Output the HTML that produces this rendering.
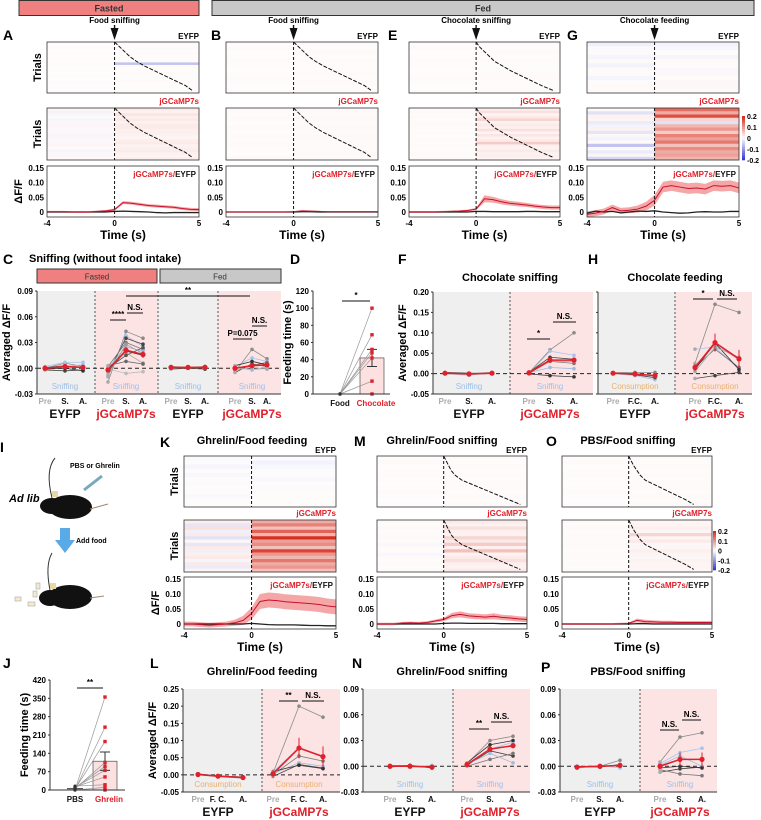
<!DOCTYPE html>
<html><head><meta charset="utf-8"><style>
body{margin:0;background:#fff;width:761px;height:820px;overflow:hidden}
svg{display:block;font-family:"Liberation Sans",sans-serif;font-weight:bold}
</style></head><body>
<svg id="fig" width="761" height="820" viewBox="0 0 761 820">
<g>
<rect x="19" y="0.5" width="180" height="15" fill="#f08080" stroke="#333"/>
<text x="109" y="11.5" font-size="9" text-anchor="middle" fill="#333">Fasted</text>
<rect x="212" y="0.5" width="542" height="15" fill="#c8c8c8" stroke="#333"/>
<text x="483" y="11.5" font-size="9" text-anchor="middle" fill="#333">Fed</text>
</g>
<g font-weight="bold">
<text x="0" y="452" font-size="14">I</text>
<path d="M52 498 Q45 470 55 458" stroke="#333" fill="none"/>
<ellipse cx="70" cy="507" rx="22" ry="12" fill="#111"/>
<ellipse cx="52" cy="506" rx="12" ry="8" fill="#111"/>
<rect x="52" y="491" width="6" height="6" fill="#e8d8a8"/>
<line x1="90" y1="509" x2="108" y2="504" stroke="#a08870"/>
<line x1="84" y1="490" x2="102" y2="476" stroke="#7ab" stroke-width="3"/>
<text x="70" y="468" font-size="7">PBS or Ghrelin</text>
<text x="9" y="502" font-size="11" font-style="italic">Ad lib</text>
<path d="M60 528 h10 v12 h5 l-10 13 l-10 -13 h5z" fill="#5aaae8"/>
<text x="76" y="543" font-size="7">Add food</text>
<path d="M50 590 Q45 565 52 553" stroke="#333" fill="none"/>
<ellipse cx="70" cy="597" rx="22" ry="12" fill="#111"/>
<ellipse cx="50" cy="598" rx="11" ry="8" fill="#111"/>
<rect x="50" y="583" width="6" height="6" fill="#e8d8a8"/>
<line x1="90" y1="598" x2="104" y2="596" stroke="#a08870"/>
<g fill="#f3ead0" stroke="#999" stroke-width="0.5">
<rect x="15" y="597" width="6" height="4"/><rect x="28" y="602" width="7" height="4"/><rect x="33" y="591" width="4" height="6"/><rect x="36" y="583" width="4" height="6"/>
</g>
</g>
</svg>
<script>
const NS='http://www.w3.org/2000/svg';
const svg=document.getElementById('fig');
function mk(tag,attrs,parent){const e=document.createElementNS(NS,tag);for(const k in attrs)e.setAttribute(k,attrs[k]);(parent||svg).appendChild(e);return e;}
function txt(str,attrs,parent){const e=mk('text',attrs,parent);e.textContent=str;return e;}
const RED='#e0202a';

// ---------- DATA: time axis for traces ----------
const traceTimes=[-4,-3.5,-3,-2.5,-2,-1.5,-1,-0.5,0,0.5,1,1.5,2,2.5,3,3.5,4,4.5,5];
const traceTicks=[0,0.05,0.10,0.15];
const traceTickLabels=['0','0.05','0.10','0.15'];
const timeTicks=[-4,0,5];
// A
const A_eyPre=[0.003,0.002,0.004,0.002,0.003,0.002,0.003,0.002,0.003,0.002,0.002,0.003,0.002,0.003,0.002,0.003,0.002,0.003,0.002,0.003];
const A_eyPost=[0.004,0.003,0.004,0.003,0.004,0.003,0.003,0.003,-0.06,0.003,0.003,0.003,0.004,0.003,0.003,0.004,0.003,0.003,0.003,0.003];
const A_jgPre=[0.008,-0.012,0.01,0.004,-0.01,0.008,0.01,-0.008,0.006,0.008,-0.01,0.008,0.006,-0.008,0.008,0.004,-0.01,0.006,0.008,0.004];
const A_jgPost=[0.02,0.012,0.025,0.015,0.02,0.012,0.018,0.02,0.015,0.014,0.012,0.01,0.016,0.02,0.012,0.014,0.018,0.012,0.01,0.015];
const A_lat=[0,0.3,0.6,0.9,1.3,1.8,2.4,3.0,3.6,4.2,4.6];
const A_jg=[0.001,0.001,0.001,0,0,0,0.002,0.004,0.008,0.032,0.03,0.026,0.022,0.02,0.018,0.016,0.012,0.009,0.008];
const A_sem=[0.003,0.003,0.003,0.003,0.003,0.003,0.003,0.003,0.004,0.005,0.005,0.005,0.005,0.005,0.005,0.005,0.005,0.005,0.005];
const A_ey=[0,0,0,0,0,0,0,0,0.002,0.003,0.002,0.001,0,-0.002,-0.003,-0.002,-0.002,-0.002,-0.002];
// B
const B_eyPre=[0.003,0.004,0.002,0.003,0.004,0.003,0.002,0.003,0.004,0.003,0.002,0.003];
const B_eyPost=[0.004,0.003,0.004,0.003,0.004,0.003,0.003,0.004,0.003,0.004,0.003,0.004];
const B_jgPre=[0.004,0.003,0.004,0.002,0.004,0.003,0.004,0.003,0.004,0.003,0.002,0.004];
const B_jgPost=[0.005,0.004,0.005,0.004,0.005,0.004,0.005,0.004,0.004,0.004,0.005,0.004];
const B_lat=[0,0.3,0.6,0.9,1.3,1.8,2.4,3.0,3.6,4.2,4.6];
const B_jg=[0,0,0,0,0,0,0,0,0.001,0.004,0.003,0.002,0.001,0.001,0.001,0.001,0.001,0.001,0.001];
const B_sem=[0.002,0.002,0.002,0.002,0.002,0.002,0.002,0.002,0.002,0.002,0.002,0.002,0.002,0.002,0.002,0.002,0.002,0.002,0.002];
const B_ey=[0,0,0,0,0,0,0,0,0,0.001,0.001,0,0,0,0,0,0,0,0];
// E
const E_eyPre=[0.003,0.004,0.002,0.003,0.004,0.003,0.002,0.003,0.004,0.003,0.002,0.003];
const E_eyPost=[0.004,0.003,0.004,0.003,0.004,0.003,0.003,0.004,0.004,0.003,0.003,0.004];
const E_jgPre=[0.003,0.005,0.003,0.004,0.003,0.004,0.004,0.003,0.003,0.004,0.003,0.003,0.004,0.003,0.004,0.003,0.003,0.004,0.003,0.004];
const E_jgPost=[0.015,0.03,0.01,0.02,0.04,0.012,0.02,0.015,0.03,0.01,0.025,0.012,0.02,0.05,0.015,0.01,0.02,0.012,0.015,0.01];
const E_lat=[0,0.2,0.5,0.8,1.1,1.6,2.1,2.7,3.3,3.9,4.6];
const E_jg=[0,0,0,0,0.001,0.002,0.003,0.005,0.01,0.045,0.042,0.035,0.03,0.027,0.024,0.02,0.017,0.015,0.015];
const E_sem=[0.003,0.003,0.003,0.003,0.003,0.003,0.003,0.003,0.004,0.012,0.01,0.009,0.008,0.008,0.007,0.007,0.007,0.007,0.007];
const E_ey=[0,0,0,0,0,0,0,0,0.002,0.002,0.001,0.001,0.001,0.001,0.002,0.002,0.001,0.001,0.001];
// G
const G_eyPre=[-0.015,-0.005,0.004,-0.01,0.005,-0.012,0.004,0.004,-0.01,0.003,0.004,0.004];
const G_eyPost=[-0.012,-0.008,0.003,-0.01,0.004,0.004,-0.006,0.006,0.003,0.006,0.007,0.004];
const G_jgPre=[0.005,-0.03,0.012,0.01,-0.02,-0.012,0.012,-0.025,0.006,-0.012,0.004,-0.06,0.005,-0.02,0.008,-0.04];
const G_jgPost=[0.14,0.08,0.17,0.04,-0.03,0.07,0.1,0.05,0.12,0.09,0.13,0.06,0.11,0.08,0.09,0.07];
const G_lat=[];
const G_jg=[-0.008,-0.004,0.002,0.015,0.004,0.006,0.01,0.02,0.04,0.085,0.09,0.085,0.08,0.082,0.078,0.09,0.088,0.09,0.082];
const G_sem=[0.01,0.01,0.01,0.01,0.01,0.01,0.012,0.015,0.018,0.018,0.018,0.018,0.018,0.018,0.018,0.018,0.018,0.018,0.018];
const G_ey=[-0.004,0.003,0,0.002,-0.003,0,0.003,0.002,0.004,0,-0.002,-0.004,-0.003,0,0.001,0,0,0.002,0.002];
// K
const K_eyPre=[-0.006,0.003,-0.01,0.003,-0.008,0.003,-0.004,0.003,0.003,-0.006,0.003,0.003];
const K_eyPost=[-0.004,-0.012,-0.008,-0.004,0.003,-0.008,0.003,-0.004,0.003,0.003,0.003,0.003];
const K_jgPre=[0.015,-0.025,0.03,-0.015,0.02,-0.03,0.008,-0.025,0.02,-0.015,0.015,0.02,-0.01,0.02,-0.02,0.01];
const K_jgPost=[0.08,0.12,0.06,0.15,0.07,0.2,0.09,0.11,0.06,0.18,0.1,0.07,0.13,0.08,0.1,0.06];
const K_lat=[];
const K_jg=[0,0,-0.002,-0.004,-0.002,0,0.004,0.012,0.035,0.075,0.08,0.078,0.074,0.072,0.07,0.068,0.065,0.06,0.057];
const K_sem=[0.008,0.008,0.008,0.008,0.008,0.008,0.01,0.015,0.02,0.025,0.025,0.025,0.025,0.025,0.025,0.025,0.025,0.025,0.025];
const K_ey=[0,0,0,0,0,0,0,0,0.002,0,-0.002,-0.003,-0.003,-0.003,-0.004,-0.005,-0.005,-0.006,-0.006];
// M
const M_eyPre=[0.003,0.004,0.002,0.003,0.004,0.003,0.002,0.003,0.004,0.003,0.002,0.003];
const M_eyPost=[0.004,0.003,0.004,0.003,0.004,0.003,0.004,0.004,0.003,0.004,0.003,0.004];
const M_jgPre=[0.004,0.003,0.005,0.003,0.004,0.005,0.003,-0.008,0.004,0.003,-0.008,0.004,0.003,0.004,0.003,0.004];
const M_jgPost=[0.02,0.012,0.03,0.015,0.012,0.04,0.02,0.05,0.015,0.06,0.012,0.02,0.03,0.015,0.012,0.02];
const M_lat=[0,0.15,0.3,0.45,0.7,1.1,1.8,2.5,3.2,3.9,4.6];
const M_jg=[0,0,0,0.003,0.004,0.003,0.005,0.01,0.015,0.028,0.032,0.027,0.025,0.023,0.026,0.022,0.02,0.017,0.015];
const M_sem=[0.004,0.004,0.004,0.004,0.004,0.004,0.004,0.005,0.006,0.009,0.01,0.009,0.009,0.009,0.01,0.009,0.009,0.009,0.009];
const M_ey=[0,0,0,0,0,0,0,0,0.002,0.003,0.003,0.002,0.002,0.002,0.002,0.001,0.001,0.001,0.001];
// O
const O_eyPre=[0.003,0.004,0.002,0.003,0.004,0.003,0.002,0.003,0.004,0.003,0.002,0.003];
const O_eyPost=[0.004,0.003,0.004,0.003,0.004,0.003,0.004,0.004,0.003,0.004,0.003,0.004];
const O_jgPre=[0.004,0.003,0.004,0.003,0.004,0.004,0.003,0.004,0.004,0.003,0.004,0.004,0.003,0.004,0.003,0.004];
const O_jgPost=[0.008,0.01,0.015,0.008,0.04,0.01,0.02,0.008,0.008,0.015,0.01,0.008,0.012,0.008,0.01,0.008];
const O_lat=[0,0.15,0.3,0.5,0.7,1.0,1.6,2.2,2.8,3.4,3.9];
const O_jg=[0,0,0,0,0,0,0,0.001,0.002,0.012,0.008,0.007,0.006,0.006,0.005,0.005,0.005,0.005,0.005];
const O_sem=[0.003,0.003,0.003,0.003,0.003,0.003,0.003,0.003,0.003,0.006,0.006,0.005,0.005,0.005,0.005,0.005,0.005,0.005,0.005];
const O_ey=[0,0,0,0,0,0,0,0,0,0.001,0.001,0,0,0,0,0,0,0,0];

// ---------- DATA: scatter panels ----------
const C_eyFasted=[[0,0.006,0.002],[0.002,0.007,0.007],[-0.002,-0.003,-0.002],[0.001,0.003,0.001],[0,0.002,0.004],[-0.001,0,-0.003]];
const C_eyFastedMean=[0,0.002,0.001];
const C_jgFasted=[[-0.016,0.043,0.035],[-0.01,0.038,0.025],[-0.005,0.035,0.028],[0.002,0.03,0.022],[0,0.025,0.02],[-0.003,0.02,0.015],[0.001,0.018,0.006],[0.003,0.008,0.005],[-0.001,-0.006,-0.004],[0,0.015,0.024],[-0.008,0.028,0.017]];
const C_jgFastedMean=[-0.002,0.021,0.016];
const C_eyFed=[[0.001,0,0.002],[0,0.001,0.001],[-0.001,0,-0.001],[0.002,0.001,0.002]];
const C_eyFedMean=[0.001,0.001,0.001];
const C_jgFed=[[-0.004,0.022,0.011],[0.002,0.012,0.008],[-0.005,0.005,0.002],[0,0.003,0.007],[0.001,-0.002,0],[0.003,0.008,0.004],[-0.002,0.001,-0.001]];
const C_jgFedMean=[0,0.003,0.004];
const D_food=[0,0,0,0,0,0,0];
const D_choc=[100,69,52,48,42,15,0];
const D_mean=[0,42];const D_sem=[0,10];
const F_ey=[[0.002,0,0.003],[0,-0.004,0.002],[0.003,0.001,0]];
const F_eyMean=[0.001,-0.001,0.001];
const F_jg=[[0.002,0.058,0.1],[0,0.055,0.045],[0.003,0.04,0.035],[0.001,0.03,0.025],[0.002,0.015,0.012],[-0.001,-0.005,-0.008],[0.004,0.03,0.03]];
const F_jgMean=[0.002,0.033,0.033];
const H_ey=[[0.002,0.003,0.003],[0,-0.005,-0.015],[0.001,-0.003,-0.01],[0.002,0,-0.005]];
const H_eyMean=[0.001,-0.001,-0.005];
const H_jg=[[0.025,0.17,0.15],[0.06,0.065,0.01],[-0.012,-0.005,0.003],[0.015,0.06,0.015],[0.02,0.07,0.035],[0.01,0.075,0.01],[0.005,0.065,0.04]];
const H_jgMean=[0.015,0.076,0.036];
const J_pbs=[0,0,3,5,8,10,12,15,0,2];
const J_ghr=[355,240,185,105,90,75,50,20,10,0];
const J_mean=[5,110];const J_sem=[2,35];
const L_ey=[[0.002,-0.003,-0.008],[0,-0.005,-0.01],[0.003,-0.004,-0.006]];
const L_eyMean=[0.001,-0.004,-0.008];
const L_jg=[[0.005,0.2,0.168],[0.008,0.08,0.055],[-0.005,0.03,0.02],[0,0.055,0.04],[0.003,0.035,0.025],[0.01,0.028,0.018]];
const L_jgMean=[0.003,0.078,0.053];
const N_ey=[[0.001,0.001,-0.001],[0,0,0.001],[-0.001,0.001,-0.002]];
const N_eyMean=[0,0,-0.001];
const N_jg=[[0.003,0.03,0.035],[0.002,0.02,0.028],[0.001,0.018,0.012],[0,0.008,0.015],[0.002,0.015,0.004],[0.004,0.025,0.03]];
const N_jgMean=[0.002,0.02,0.024];
const P_ey=[[0,0,0.007],[-0.002,0.001,-0.002],[0,-0.001,0.002]];
const P_eyMean=[-0.001,0,0.001];
const P_jg=[[0.005,0.034,0.039],[0.003,0.016,0.021],[-0.007,-0.003,-0.001],[-0.004,-0.009,-0.011],[0.001,0.012,0],[-0.002,0,-0.002]];
const P_jgMean=[0,0.008,0.008];

// ---------- drawing helpers ----------
function heatColor(v){
  const t=Math.max(-1,Math.min(1,v/0.2));
  if(t>=0){const r=255-(255-215)*t,g=255-(255-48)*t,b=255-(255-31)*t;return `rgb(${r|0},${g|0},${b|0})`;}
  const a=-t;return `rgb(${(255-(255-60)*a)|0},${(255-(255-60)*a)|0},${(255-(255-210)*a)|0})`;
}
function timePanel(id,x0,x1,rows,hm1,hm2,lat1,lat2,jg,sem,ey,opt){
  const g=mk('g',{});
  
  
  const tx=t=>x0+(t+4)/9*(x1-x0);
  [[rows.h1,hm1,lat1,'eyfp'],[rows.h2,hm2,lat2,'jgcamp']].forEach(([yy,hm,lat,nm])=>{
    const [pre,post]=hm;const n=pre.length;const h=(yy[1]-yy[0])/n;
    const hg=mk('g',{},g);
    
    
    for(let i=0;i<n;i++){
      const a=mk('rect',{x:x0,y:yy[0]+i*h,width:tx(0)-x0,height:h+0.3,fill:heatColor(pre[i])},hg);
      
      
      const b=mk('rect',{x:tx(0),y:yy[0]+i*h,width:x1-tx(0),height:h+0.3,fill:heatColor(post[i])},hg);
      
      
    }
    if(lat.length){
      const pts=lat.map((t,i)=>`${tx(t)},${yy[0]+i/(lat.length-1)*(yy[1]-yy[0])*0.95}`).join(' ');
      const pl=mk('polyline',{points:pts,fill:'none',stroke:'#111','stroke-width':1,'stroke-dasharray':'4 1.5'},hg);
      
      
    }
    const fr=mk('rect',{x:x0,y:yy[0],width:x1-x0,height:yy[1]-yy[0],fill:'none',stroke:'#333','stroke-width':0.8},hg);
    
    
    const dl=mk('line',{x1:tx(0),x2:tx(0),y1:yy[0],y2:yy[1],stroke:'#111','stroke-dasharray':'3 2'},hg);
    
    
  });
  const t1=txt('EYFP',{x:x1,y:rows.h1[0]-3,'text-anchor':'end','font-size':'8'},g);
  
  
  const t2=txt('jGCaMP7s',{x:x1,y:rows.h2[0]-4,'text-anchor':'end','font-size':'8',fill:RED},g);
  
  
  const [tt,tb]=rows.tr;const yt=tt+2,yb=tb-5;
  const ty=v=>yb-v/0.15*(yb-yt);
  const band=traceTimes.map((t,i)=>`${tx(t)},${ty(jg[i]+sem[i])}`).concat(traceTimes.map((t,i)=>`${tx(t)},${ty(jg[i]-sem[i])}`).reverse()).join(' ');
  const bp=mk('polygon',{points:band,fill:'#f28a8a',opacity:0.75},g);
  
  
  const el=mk('polyline',{points:traceTimes.map((t,i)=>`${tx(t)},${ty(ey[i])}`).join(' '),fill:'none',stroke:'#222','stroke-width':1.3},g);
  
  
  const jl=mk('polyline',{points:traceTimes.map((t,i)=>`${tx(t)},${ty(jg[i])}`).join(' '),fill:'none',stroke:'#c8102e','stroke-width':1},g);
  
  
  const fr=mk('rect',{x:x0,y:tt,width:x1-x0,height:tb-tt,fill:'none',stroke:'#333','stroke-width':0.8},g);
  
  
  const dl=mk('line',{x1:tx(0),x2:tx(0),y1:tt,y2:tb,stroke:'#111','stroke-dasharray':'3 2'},g);
  
  
  const lg=txt('',{x:x1-3,y:tt+11,'text-anchor':'end','font-size':'8'},g);
  
  
  const s1=mk('tspan',{fill:RED},lg);s1.textContent='jGCaMP7s/';
  const s2=mk('tspan',{fill:'#111'},lg);s2.textContent='EYFP';
  traceTicks.forEach((v,i)=>{
    const l=txt(traceTickLabels[i],{x:x0-3,y:ty(v)+3,'text-anchor':'end','font-size':'8'},g);
    
    
  });
  timeTicks.forEach(t=>{
    const l=txt(String(t),{x:tx(t),y:tb+9,'text-anchor':'middle','font-size':'8'},g);
    
    
  });
  const xt=txt('Time (s)',{x:(x0+x1)/2,y:tb+22,'text-anchor':'middle','font-size':'12'},g);
  
  
  if(opt.trials){
    [rows.h1,rows.h2].forEach(yy=>{
      const l=txt('Trials',{x:0,y:0,'font-size':'11','text-anchor':'middle',transform:`translate(${x0-6},${(yy[0]+yy[1])/2}) rotate(-90)`},g);
      
      
    });
    const l=txt('ΔF/F',{x:0,y:0,'font-size':'11','text-anchor':'middle',transform:`translate(${x0-25},${(tt+tb)/2}) rotate(-90)`},g);
    
    
  }
  const pl=txt(id,{x:opt.lx,y:opt.ly,'font-size':'14'},g);
  
  
  if(opt.arrow){
    const a=txt(opt.arrow,{x:tx(0),y:rows.h1[0]-19,'text-anchor':'middle','font-size':'8'},g);
    
    
    const ar=mk('path',{d:`M${tx(0)-4} ${rows.h1[0]-14}h8l-4 12z M${tx(0)-0.7} ${rows.h1[0]-17}h1.4v4h-1.4z`,fill:'#111'},g);
    
    
  }
  if(opt.title){
    const a=txt(opt.title,{x:opt.tcx,y:rows.h1[0]-12,'text-anchor':'middle','font-size':'11'},g);
    
    
  }
  if(opt.cbar){
    const cg=mk('g',{},g);
    
    
    const [cx,cy0,cy1]=opt.cbar;const cbVals=[0.2,0.1,0,-0.1,-0.2];
    for(let i=0;i<20;i++){const v=0.2-i*0.4/19;const r=mk('rect',{x:cx,y:cy0+i*(cy1-cy0)/20,width:3,height:(cy1-cy0)/20+0.3,fill:heatColor(v)},cg);
      
      }
    cbVals.forEach((v,i)=>{const l=txt(String(v),{x:cx+5,y:cy0+i*(cy1-cy0)/4+3,'font-size':'7'},cg);
      
      });
  }
}
const topRows={h1:[42,93],h2:[108,160],tr:[166,217]};
const botRows={h1:[456,507],h2:[520,572],tr:[577,629]};
timePanel('A',47,199,topRows,[A_eyPre,A_eyPost],[A_jgPre,A_jgPost],A_lat,A_lat,A_jg,A_sem,A_ey,{trials:1,lx:3,ly:40,arrow:'Food sniffing'});
timePanel('B',226,378,topRows,[B_eyPre,B_eyPost],[B_jgPre,B_jgPost],B_lat,B_lat,B_jg,B_sem,B_ey,{lx:211,ly:40,arrow:'Food sniffing'});
timePanel('E',409,560,topRows,[E_eyPre,E_eyPost],[E_jgPre,E_jgPost],E_lat,E_lat,E_jg,E_sem,E_ey,{lx:388,ly:40,arrow:'Chocolate sniffing'});
timePanel('G',587,739,topRows,[G_eyPre,G_eyPost],[G_jgPre,G_jgPost],G_lat,G_lat,G_jg,G_sem,G_ey,{lx:567,ly:40,arrow:'Chocolate feeding',cbar:[742,116,160]});
timePanel('K',184,336,botRows,[K_eyPre,K_eyPost],[K_jgPre,K_jgPost],K_lat,K_lat,K_jg,K_sem,K_ey,{trials:1,lx:160,ly:447,title:'Ghrelin/Food feeding',tcx:252});
timePanel('M',377,527,botRows,[M_eyPre,M_eyPost],[M_jgPre,M_jgPost],M_lat,M_lat,M_jg,M_sem,M_ey,{lx:354,ly:446,title:'Ghrelin/Food sniffing',tcx:442});
timePanel('O',562,712,botRows,[O_eyPre,O_eyPost],[O_jgPre,O_jgPost],O_lat,O_lat,O_jg,O_sem,O_ey,{lx:546,ly:446,title:'PBS/Food sniffing',tcx:628,cbar:[713,531,570]});

// ---------- scatter panels ----------
const linePalette=['#8a8a8a','#a8c4ea','#444','#777','#9dbbe0','#333','#aaa','#666','#bbb','#555','#999'];
function scatterPanel(id,c){
  const g=mk('g',{});
  
  
  const yv=v=>c.yb-(v-c.ymin)/(c.ymax-c.ymin)*(c.yb-c.yt);
  c.sections.forEach(s=>{const r=mk('rect',{x:s[0],y:c.yt,width:s[1]-s[0],height:c.yb-c.yt,fill:s[2]},g);
    
    });
  c.sections.slice(1).forEach(s=>{const l=mk('line',{x1:s[0],x2:s[0],y1:c.yt,y2:c.yb,stroke:'#555','stroke-dasharray':'2 2'},g);
    
    });
  const zl=mk('line',{x1:c.ax,x2:c.x1,y1:yv(0),y2:yv(0),stroke:'#222','stroke-dasharray':'4 3'},g);
  
  
  const ax=mk('path',{d:`M${c.ax} ${c.yt}V${c.yb}H${c.x1}`,fill:'none',stroke:'#333'},g);
  
  
  c.ticks.forEach((v,i)=>{
    const t=mk('line',{x1:c.ax-2,x2:c.ax,y1:yv(v),y2:yv(v),stroke:'#333'},g);
    
    
    const l=txt(c.tickLabels[i],{x:c.ax-4,y:yv(v)+3,'text-anchor':'end','font-size':'8'},g);
    
    
  });
  c.groups.forEach(gr=>{
    const gg=mk('g',{},g);
    
    
    gr.subj.forEach((s,i)=>{
      const col=linePalette[i%linePalette.length];
      const pl=mk('polyline',{points:s.map((v,k)=>`${gr.xs[k]},${yv(v)}`).join(' '),fill:'none',stroke:col,'stroke-width':0.8},gg);
      
      
      s.forEach((v,k)=>{const d=mk('circle',{cx:gr.xs[k],cy:yv(v),r:1.8,fill:k==0?'#aaa':col},gg);
        
        });
    });
    const ml=mk('polyline',{points:gr.mean.map((v,k)=>`${gr.xs[k]},${yv(v)}`).join(' '),fill:'none',stroke:RED,'stroke-width':1.6},gg);
    
    
    gr.mean.forEach((v,k)=>{
      const e=(gr.err!=null?gr.err:c.err)*(k==0?0.4:1);
      const eb=mk('line',{x1:gr.xs[k],x2:gr.xs[k],y1:yv(v-e),y2:yv(v+e),stroke:RED},gg);
      
      
      const m=mk('circle',{cx:gr.xs[k],cy:yv(v),r:2.6,fill:RED},gg);
      
      
    });
    const ev=txt(gr.event,{x:gr.xs[1],y:c.yb-5,'text-anchor':'middle','font-size':'8',fill:gr.eventColor,'font-weight':'normal'},gg);
    
    
    gr.cats.forEach((s,k)=>{const l=txt(s,{x:gr.xs[k],y:c.yb+10,'text-anchor':'middle','font-size':'8',fill:k==0?'#aaa':'#111'},gg);
      
      });
    const gl=txt(gr.label,{x:gr.xs[1],y:c.yb+24,'text-anchor':'middle','font-size':'12',fill:gr.label=='EYFP'?'#111':RED},gg);
    
    
  });
  (c.sig||[]).forEach(s=>{
    const l=mk('line',{x1:s[0],x2:s[1],y1:s[2],y2:s[2],stroke:'#111'},g);
    
    
    const t=txt(s[3],{x:(s[0]+s[1])/2,y:s[2]-3,'text-anchor':'middle','font-size':'8'},g);
    
    
  });
  if(c.title){const t=txt(c.title,{x:c.tx,y:c.ty,'text-anchor':'middle','font-size':'11'},g);
    
    }
  if(c.ytitle){
    const yt=txt('Averaged ΔF/F',{x:0,y:0,'text-anchor':'middle','font-size':'11',transform:`translate(${c.ax-27},${(c.yt+c.yb)/2}) rotate(-90)`},g);
    
    
  }
  const pl=txt(id,{x:c.lx,y:c.ly,'font-size':'14'},g);
  
  
}
const GRAY='#efefef',PINK='#fde4e4',BLUE='#9cbfe8',ORANGE='#e8b070';
const sniffCats=['Pre','S.','A.'],feedCats=['Pre','F.C.','A.'],feedCatsL=['Pre','F. C.','A.'];
const t09=[-0.03,0,0.03,0.06,0.09],t09L=['-0.03','0.00','0.03','0.06','0.09'];
scatterPanel('C',{ax:37,x1:281,yt:291,yb:394,ymin:-0.03,ymax:0.09,ticks:t09,tickLabels:t09L,lx:3,ly:264,err:0.004,ytitle:1,
  sections:[[37,95,GRAY],[95,158,PINK],[158,218,GRAY],[218,281,PINK]],
  groups:[{name:'eyfp-fasted',xs:[45,65,83],subj:C_eyFasted,mean:C_eyFastedMean,cats:sniffCats,label:'EYFP',event:'Sniffing',eventColor:BLUE,err:0.001},
  {name:'jgcamp-fasted',xs:[108,126,143],subj:C_jgFasted,mean:C_jgFastedMean,cats:sniffCats,label:'jGCaMP7s',event:'Sniffing',eventColor:BLUE},
  {name:'eyfp-fed',xs:[171,188,205],subj:C_eyFed,mean:C_eyFedMean,cats:sniffCats,label:'EYFP',event:'Sniffing',eventColor:BLUE,err:0.001},
  {name:'jgcamp-fed',xs:[235,252,267],subj:C_jgFed,mean:C_jgFedMean,cats:sniffCats,label:'jGCaMP7s',event:'Sniffing',eventColor:BLUE,err:0.002}],
  sig:[[110,126,320,'****'],[127,143,313,'N.S.'],[126,250,296,'**'],[233,252,339,'P=0.075'],[252,267,326,'N.S.']]});
scatterPanel('F',{ax:433,x1:593,yt:292,yb:394,ymin:-0.05,ymax:0.2,ticks:[-0.05,0,0.05,0.1,0.15,0.2],tickLabels:['-0.05','0.00','0.05','0.10','0.15','0.20'],lx:398,ly:264,err:0.006,ytitle:1,title:'Chocolate sniffing',tx:510,ty:281,
  sections:[[433,510,GRAY],[510,593,PINK]],
  groups:[{name:'eyfp',xs:[445,469,492],subj:F_ey,mean:F_eyMean,cats:sniffCats,label:'EYFP',event:'Sniffing',eventColor:BLUE,err:0.002},
  {name:'jgcamp',xs:[529,550,574],subj:F_jg,mean:F_jgMean,cats:sniffCats,label:'jGCaMP7s',event:'Sniffing',eventColor:BLUE}],
  sig:[[527,550,339,'*'],[553,576,322,'N.S.']]});
scatterPanel('H',{ax:598,x1:752,yt:292,yb:394,ymin:-0.05,ymax:0.2,ticks:[-0.05,0,0.05,0.1,0.15,0.2],tickLabels:['','','','','',''],lx:588,ly:264,err:0.022,title:'Chocolate feeding',tx:675,ty:281,
  sections:[[598,675,GRAY],[675,752,PINK]],
  groups:[{name:'eyfp',xs:[613,635,655],subj:H_ey,mean:H_eyMean,cats:feedCats,label:'EYFP',event:'Consumption',eventColor:ORANGE,err:0.003},
  {name:'jgcamp',xs:[695,715,739],subj:H_jg,mean:H_jgMean,cats:feedCats,label:'jGCaMP7s',event:'Consumption',eventColor:ORANGE}],
  sig:[[693,713,299,'*'],[717,737,299,'N.S.']]});
scatterPanel('L',{ax:183,x1:340,yt:689,yb:792,ymin:-0.05,ymax:0.25,ticks:[-0.05,0,0.05,0.1,0.15,0.2,0.25],tickLabels:['-0.05','0.00','0.05','0.10','0.15','0.20','0.25'],lx:150,ly:668,err:0.03,ytitle:1,title:'Ghrelin/Food feeding',tx:262,ty:675,
  sections:[[183,262,GRAY],[262,340,PINK]],
  groups:[{name:'eyfp',xs:[198,218,243],subj:L_ey,mean:L_eyMean,cats:feedCatsL,label:'EYFP',event:'Consumption',eventColor:ORANGE,err:0.002},
  {name:'jgcamp',xs:[273,299,323],subj:L_jg,mean:L_jgMean,cats:feedCatsL,label:'jGCaMP7s',event:'Consumption',eventColor:ORANGE}],
  sig:[[279,298,701,'**'],[302,324,701,'N.S.']]});
scatterPanel('N',{ax:363,x1:530,yt:689,yb:792,ymin:-0.03,ymax:0.09,ticks:t09,tickLabels:t09L,lx:352,ly:668,err:0.003,title:'Ghrelin/Food sniffing',tx:452,ty:675,
  sections:[[363,453,GRAY],[453,530,PINK]],
  groups:[{name:'eyfp',xs:[390,410,432],subj:N_ey,mean:N_eyMean,cats:sniffCats,label:'EYFP',event:'Sniffing',eventColor:BLUE,err:0.001},
  {name:'jgcamp',xs:[467,490,513],subj:N_jg,mean:N_jgMean,cats:sniffCats,label:'jGCaMP7s',event:'Sniffing',eventColor:BLUE}],
  sig:[[469,489,729,'**'],[491,512,722,'N.S.']]});
scatterPanel('P',{ax:560,x1:717,yt:689,yb:792,ymin:-0.03,ymax:0.09,ticks:t09,tickLabels:t09L,lx:541,ly:672,err:0.008,title:'PBS/Food sniffing',tx:638,ty:675,
  sections:[[560,640,GRAY],[640,717,PINK]],
  groups:[{name:'eyfp',xs:[577,600,620],subj:P_ey,mean:P_eyMean,cats:sniffCats,label:'EYFP',event:'Sniffing',eventColor:BLUE,err:0.001},
  {name:'jgcamp',xs:[660,680,702],subj:P_jg,mean:P_jgMean,cats:sniffCats,label:'jGCaMP7s',event:'Sniffing',eventColor:BLUE}],
  sig:[[660,679,730,'N.S.'],[682,701,720,'N.S.']]});

(function(){
  const r1=mk('rect',{x:37,y:269,width:120,height:14,fill:'#f08080',stroke:'#333'});
  
  
  const r2=mk('rect',{x:160,y:269,width:121,height:14,fill:'#c8c8c8',stroke:'#333'});
  
  
  const a=txt('Fasted',{x:97,y:279.5,'text-anchor':'middle','font-size':'8',fill:'#333','font-weight':'normal'});
  
  
  const b=txt('Fed',{x:220,y:279.5,'text-anchor':'middle','font-size':'8',fill:'#333','font-weight':'normal'});
  
  
  const t=txt('Sniffing (without food intake)',{x:29,y:262,'font-size':'11'});
  
  
})();

function barPanel(id,c){
  const g=mk('g',{});
  
  
  const yv=v=>c.yb-v/c.ymax*(c.yb-c.yt);
  const bar=mk('rect',{x:c.xs[1]-c.bw/2,y:yv(c.mean[1]),width:c.bw,height:c.yb-yv(c.mean[1]),fill:'#fde0e0',stroke:'#333','stroke-width':0.6},g);
  
  
  const eb=mk('path',{d:`M${c.xs[1]} ${yv(c.mean[1]-c.sem[1])}V${yv(c.mean[1]+c.sem[1])}M${c.xs[1]-5} ${yv(c.mean[1]+c.sem[1])}h10M${c.xs[1]-5} ${yv(c.mean[1]-c.sem[1])}h10`,stroke:'#333',fill:'none'},g);
  
  
  const cb=mk('path',{d:`M${c.xs[0]-8} ${yv(c.mean[0])}h16`,stroke:'#333'},g);
  
  
  c.a.forEach((v,i)=>{
    const l=mk('line',{x1:c.xs[0],y1:yv(v),x2:c.xs[1],y2:yv(c.b[i]),stroke:'#999','stroke-width':0.7},g);
    
    
    const p=mk('circle',{cx:c.xs[0],cy:yv(v),r:1.6,fill:'#333'},g);
    
    
    const q=mk('rect',{x:c.xs[1]-1.7,y:yv(c.b[i])-1.7,width:3.4,height:3.4,fill:RED},g);
    
    
  });
  const ax=mk('path',{d:`M${c.ax} ${c.yt}V${c.yb}H${c.x1}`,fill:'none',stroke:'#333'},g);
  
  
  c.ticks.forEach(v=>{
    const t=mk('line',{x1:c.ax-2,x2:c.ax,y1:yv(v),y2:yv(v),stroke:'#333'},g);
    
    
    const l=txt(String(v),{x:c.ax-4,y:yv(v)+3,'text-anchor':'end','font-size':'8'},g);
    
    
  });
  c.cats.forEach((s,i)=>{const l=txt(s,{x:c.xs[i]+(i?4:0),y:c.yb+12,'text-anchor':'middle','font-size':'8',fill:i?RED:'#111'},g);
    
    });
  const s=mk('line',{x1:c.xs[0]+2,x2:c.xs[1]-2,y1:c.sigY,y2:c.sigY,stroke:'#111'},g);
  
  
  const st=txt(c.sig,{x:(c.xs[0]+c.xs[1])/2,y:c.sigY-3,'text-anchor':'middle','font-size':'8'},g);
  
  
  const yt=txt('Feeding time (s)',{x:0,y:0,'text-anchor':'middle','font-size':'11',transform:`translate(${c.ax-22},${(c.yt+c.yb)/2}) rotate(-90)`},g);
  
  
  const pl=txt(id,{x:c.lx,y:c.ly,'font-size':'14'},g);
  
  
}
barPanel('D',{ax:313,x1:390,yt:291,yb:394,ymax:120,ticks:[0,20,40,60,80,100,120],xs:[340,372],bw:24,a:D_food,b:D_choc,mean:D_mean,sem:D_sem,cats:['Food','Chocolate'],sig:'*',sigY:301,lx:290,ly:264});
barPanel('J',{ax:50,x1:125,yt:680,yb:790,ymax:420,ticks:[0,70,140,210,280,350,420],xs:[75,105],bw:24,a:J_pbs,b:J_ghr,mean:J_mean,sem:J_sem,cats:['PBS','Ghrelin'],sig:'**',sigY:688,lx:3,ly:668});
</script>
</body></html>
